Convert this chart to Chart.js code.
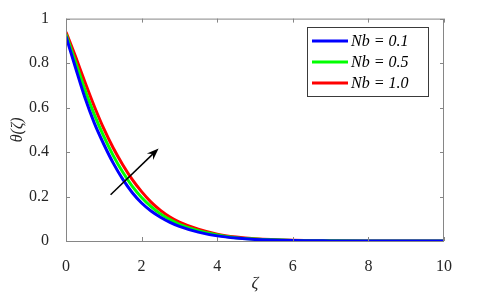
<!DOCTYPE html>
<html>
<head>
<meta charset="utf-8">
<script src="https://cdn.jsdelivr.net/npm/chart.js@4"></script>
<style>
  html, body { margin: 0; padding: 0; background: #fff; }
  #wrap { width: 480px; height: 304px; }
</style>
</head>
<body>
<div id="wrap"><canvas id="thetaChart" width="480" height="304"></canvas></div>
<script>
const zeta = [0, 0.25, 0.5, 0.75, 1, 1.25, 1.5, 1.75, 2, 2.25, 2.5, 2.75, 3, 3.5, 4, 4.5, 5, 6, 7, 8, 9, 10];
const nb01 = [0.92, 0.78, 0.645, 0.53, 0.435, 0.35, 0.278, 0.218, 0.171, 0.135, 0.107, 0.084, 0.066, 0.04, 0.023, 0.013, 0.007, 0.002, 0.0005, 0, 0, 0];
const nb05 = [0.93, 0.805, 0.68, 0.568, 0.47, 0.384, 0.31, 0.247, 0.196, 0.155, 0.122, 0.096, 0.075, 0.046, 0.027, 0.015, 0.0085, 0.0025, 0.0008, 0, 0, 0];
const nb10 = [0.94, 0.83, 0.715, 0.605, 0.505, 0.418, 0.343, 0.277, 0.222, 0.175, 0.138, 0.108, 0.085, 0.053, 0.031, 0.018, 0.01, 0.003, 0.001, 0, 0, 0];
const seriesLabels = ['Nb = 0.1', 'Nb = 0.5', 'Nb = 1.0'];
const xTicks = [0, 2, 4, 6, 8, 10];
const yTicks = [0, 0.2, 0.4, 0.6, 0.8, 1];

const serif = "'Liberation Serif', 'DejaVu Serif', 'Noto Serif', 'Times New Roman', Times, serif";
const textColor = '#262626';
const axisColor = '#868686';

function pts(ys) {
  return zeta.map((x, i) => ({ x: x, y: ys[i] }));
}

// box with inward ticks, arrow and legend inside the plot
const decorations = {
  id: 'decorations',
  afterDatasetsDraw(chart) {
    const { ctx, chartArea: a, scales: { x, y } } = chart;
    ctx.save();
    ctx.strokeStyle = axisColor;
    ctx.lineWidth = 1;
    ctx.strokeRect(a.left + 0.5, a.top + 0.5, a.right - a.left - 1, a.bottom - a.top);
    ctx.beginPath();
    xTicks.forEach(v => {
      const px = Math.round(x.getPixelForValue(v)) + 0.5;
      ctx.moveTo(px, a.bottom); ctx.lineTo(px, a.bottom - 4);
      ctx.moveTo(px, a.top); ctx.lineTo(px, a.top + 4);
    });
    yTicks.forEach(v => {
      const py = Math.round(y.getPixelForValue(v)) + 0.5;
      ctx.moveTo(a.left, py); ctx.lineTo(a.left + 4, py);
      ctx.moveTo(a.right, py); ctx.lineTo(a.right - 4, py);
    });
    ctx.stroke();

    // arrow
    const x0 = x.getPixelForValue(1.18), y0 = y.getPixelForValue(0.208);
    const x1 = x.getPixelForValue(2.45), y1 = y.getPixelForValue(0.416);
    const ang = Math.atan2(y1 - y0, x1 - x0);
    ctx.strokeStyle = '#000';
    ctx.fillStyle = '#000';
    ctx.lineWidth = 1.5;
    ctx.beginPath();
    ctx.moveTo(x0, y0);
    ctx.lineTo(x1 - 6 * Math.cos(ang), y1 - 6 * Math.sin(ang));
    ctx.stroke();
    ctx.beginPath();
    ctx.moveTo(x1, y1);
    ctx.lineTo(x1 - 12 * Math.cos(ang) + 4.5 * Math.sin(ang), y1 - 12 * Math.sin(ang) - 4.5 * Math.cos(ang));
    ctx.lineTo(x1 - 8 * Math.cos(ang), y1 - 8 * Math.sin(ang));
    ctx.lineTo(x1 - 12 * Math.cos(ang) - 4.5 * Math.sin(ang), y1 - 12 * Math.sin(ang) + 4.5 * Math.cos(ang));
    ctx.closePath();
    ctx.fill();

    // legend
    const lx = 307, ly = 27, lw = 121, lh = 69;
    ctx.fillStyle = '#fff';
    ctx.fillRect(lx, ly, lw, lh);
    ctx.strokeStyle = '#3a3a3a';
    ctx.lineWidth = 1;
    ctx.strokeRect(lx + 0.5, ly + 0.5, lw, lh);
    ctx.font = 'italic 16px ' + serif;
    ctx.textBaseline = 'middle';
    ctx.textAlign = 'left';
    chart.data.datasets.forEach((ds, i) => {
      const ry = 41 + i * 21;
      ctx.strokeStyle = ds.borderColor;
      ctx.lineWidth = 3;
      ctx.beginPath();
      ctx.moveTo(312, ry); ctx.lineTo(348, ry);
      ctx.stroke();
      ctx.fillStyle = '#000';
      ctx.fillText(ds.label, 351, ry + 1);
    });
    ctx.restore();
  }
};

new Chart(document.getElementById('thetaChart').getContext('2d'), {
  type: 'line',
  data: {
    datasets: [
      { label: seriesLabels[0], data: pts(nb01), borderColor: '#0000ff' },
      { label: seriesLabels[1], data: pts(nb05), borderColor: '#00ff00' },
      { label: seriesLabels[2], data: pts(nb10), borderColor: '#ff0000' }
    ].map(d => Object.assign(d, { borderWidth: 3, pointRadius: 0, fill: false, cubicInterpolationMode: 'monotone' }))
  },
  options: {
    responsive: false,
    animation: false,
    layout: { padding: { left: 0, right: 36, top: 12, bottom: 0 } },
    plugins: { legend: { display: false }, tooltip: { enabled: false } },
    scales: {
      x: {
        type: 'linear', min: 0, max: 10,
        afterFit(s) { s.height = 63; },
        afterBuildTicks(s) { s.ticks = xTicks.map(v => ({ value: v })); },
        grid: { display: false }, border: { display: false },
        ticks: { color: textColor, font: { family: serif, size: 16 }, padding: 8, maxRotation: 0, callback: v => String(v) },
        title: { display: true, text: 'ζ', color: textColor, font: { family: serif, size: 17, style: 'italic' }, padding: { top: 0, bottom: 10 } }
      },
      y: {
        type: 'linear', min: 0, max: 1,
        afterFit(s) { s.width = 66; },
        afterBuildTicks(s) { s.ticks = yTicks.map(v => ({ value: v })); },
        grid: { display: false }, border: { display: false },
        ticks: { color: textColor, font: { family: serif, size: 16 }, padding: 9, callback: v => String(v) },
        title: { display: true, text: 'θ(ζ)', color: textColor, font: { family: serif, size: 16, style: 'italic' }, padding: { top: 8, bottom: 0 } }
      }
    }
  },
  plugins: [decorations]
});
</script>
</body>
</html>
